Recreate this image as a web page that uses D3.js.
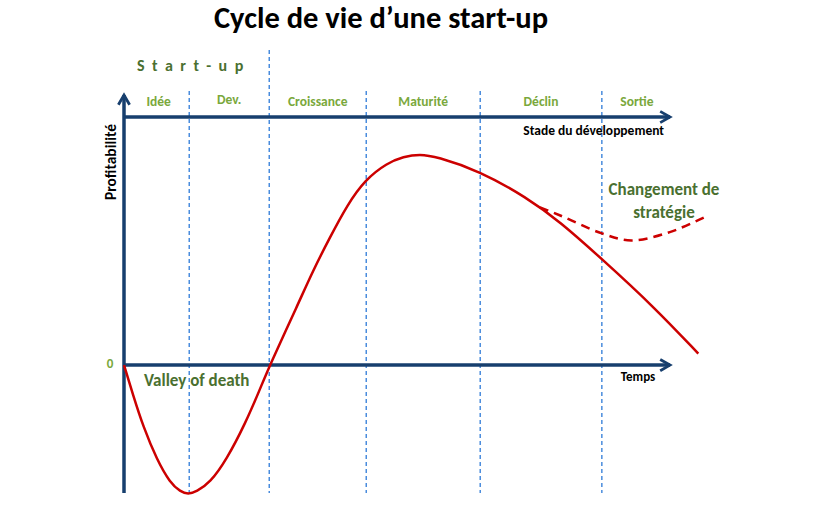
<!DOCTYPE html>
<html><head><meta charset="utf-8">
<script src="https://cdn.jsdelivr.net/npm/d3@7"></script>
<style>body{margin:0;background:#fff}svg{display:block}</style>
</head><body><svg id="c" width="816" height="515"></svg>
<script>
// ---- data ----
const stages = ["Idée", "Dev.", "Croissance", "Maturité", "Déclin", "Sortie"];
const stageBounds = [0, 11.9, 26.5, 44.2, 65.0, 87.2, 100];
const curveT = [0, 1.7, 3.5, 6.0, 8.4, 10.3, 11.7, 13.2, 15.7, 18.7, 22.1, 24.8, 26.6, 31.8, 34.5, 37.6, 40.7, 44.0, 48.0, 51.0, 54.0, 57.0, 64.8, 73.5, 79.6, 87.2, 96.6, 104.8];
const curveV = [0, -24, -48, -74, -92, -99, -101, -99, -92, -74, -46, -19, 0, 48, 74, 100, 125, 145, 158, 163, 165, 163, 152, 131, 112, 83, 46, 9];
const altT = [75.9, 79.6, 87.2, 92.6, 99.6, 106.6];
const altV = [123.4, 117, 103, 97.5, 104, 117];

const svg = d3.select("#c");
const x = d3.scaleLinear().domain([0, 100]).range([124, 672]);
const y = d3.scaleLinear().domain([-100, 194]).range([493, 117]);
const font = "Calibri, Carlito, Lato, 'Open Sans', sans-serif";
const axisCol = "#173F6E", gridCol = "#2F7BD8", red = "#CC0000";
const dkGreen = "#4A7030", ltGreen = "#7AA83C";

svg.append("defs").append("marker").attr("id","arr").attr("viewBox","0 0 10 10")
  .attr("refX",8).attr("refY",5).attr("markerWidth",4).attr("markerHeight",4)
  .attr("orient","auto").append("path").attr("d","M1,1 L8,5 L1,9")
  .attr("fill","none").attr("stroke",axisCol).attr("stroke-width",2);

// stage dividers
stageBounds.slice(1, -1).forEach((b, i) => {
  svg.append("line").attr("x1", x(b)).attr("x2", x(b))
    .attr("y1", i === 1 ? 50 : 91).attr("y2", y(-100))
    .attr("stroke", gridCol).attr("stroke-width", 1.3).attr("stroke-dasharray", "4,3");
});

// axes
svg.append("line").attr("x1", x(0)).attr("x2", x(0)).attr("y1", y(-100)).attr("y2", 95)
  .attr("stroke", axisCol).attr("stroke-width", 3.5).attr("marker-end", "url(#arr)");
svg.append("line").attr("x1", x(0)).attr("x2", x(100) - 2).attr("y1", y(194)).attr("y2", y(194))
  .attr("stroke", axisCol).attr("stroke-width", 3.5).attr("marker-end", "url(#arr)");
svg.append("line").attr("x1", x(0)).attr("x2", x(100) - 2).attr("y1", y(0)).attr("y2", y(0))
  .attr("stroke", axisCol).attr("stroke-width", 3.5).attr("marker-end", "url(#arr)");

// curves
const line = d3.line().x(d => x(d[0])).y(d => y(d[1])).curve(d3.curveBasis);
const altLine = d3.line().x(d => x(d[0])).y(d => y(d[1])).curve(d3.curveCatmullRom.alpha(0.5));
svg.append("path").datum(altT.map((t, i) => [t, altV[i]])).attr("d", altLine)
  .attr("fill", "none").attr("stroke", red).attr("stroke-width", 2.5).attr("stroke-dasharray", "9,6");
svg.append("path").datum(curveT.map((t, i) => [t, curveV[i]])).attr("d", line)
  .attr("fill", "none").attr("stroke", red).attr("stroke-width", 2.5);

// stage labels
stages.forEach((s, i) => {
  svg.append("text").attr("x", x((stageBounds[i] + stageBounds[i + 1]) / 2) + (i === 0 ? 2 : 0))
    .attr("y", i === 1 ? 104 : 106).attr("text-anchor", "middle")
    .attr("font-family", font).attr("font-weight", "bold").attr("font-size", 13.5)
    .attr("fill", ltGreen).text(s);
});

// texts
svg.append("text").attr("x", 381).attr("y", 28).attr("text-anchor", "middle")
  .attr("font-family", font).attr("font-weight", "bold").attr("font-size", 30.5)
  .attr("fill", "#000").text("Cycle de vie d’une start-up");
svg.append("text").attr("x", 137).attr("y", 71)
  .attr("font-family", font).attr("font-weight", "bold").attr("font-size", 16)
  .attr("letter-spacing", 7.5).attr("fill", dkGreen).text("Start-up");
svg.append("text").attr("x", 664).attr("y", 135).attr("text-anchor", "end")
  .attr("font-family", font).attr("font-weight", "bold").attr("font-size", 13.5)
  .attr("fill", "#000").text("Stade du développement");
svg.append("text").attr("x", 638).attr("y", 381).attr("text-anchor", "middle")
  .attr("font-family", font).attr("font-weight", "bold").attr("font-size", 13)
  .attr("fill", "#000").text("Temps");
svg.append("text").attr("transform", "translate(116,162) rotate(-90)").attr("text-anchor", "middle")
  .attr("font-family", font).attr("font-weight", "bold").attr("font-size", 15.5)
  .attr("fill", "#000").text("Profitabilité");
svg.append("text").attr("x", 110).attr("y", 368).attr("text-anchor", "middle")
  .attr("font-family", font).attr("font-weight", "bold").attr("font-size", 13)
  .attr("fill", ltGreen).text("0");
svg.append("text").attr("x", 144).attr("y", 386)
  .attr("font-family", font).attr("font-weight", "bold").attr("font-size", 17)
  .attr("fill", dkGreen).text("Valley of death");
svg.append("text").attr("x", 664).attr("y", 195).attr("text-anchor", "middle")
  .attr("font-family", font).attr("font-weight", "bold").attr("font-size", 17)
  .attr("fill", dkGreen).text("Changement de");
svg.append("text").attr("x", 664).attr("y", 218).attr("text-anchor", "middle")
  .attr("font-family", font).attr("font-weight", "bold").attr("font-size", 17)
  .attr("fill", dkGreen).text("stratégie");
</script></body></html>
